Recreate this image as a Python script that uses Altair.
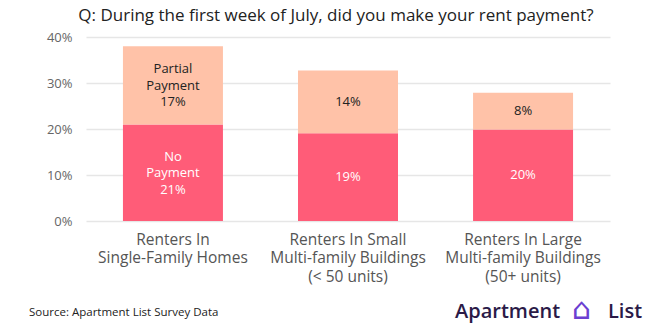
import altair as alt
import pandas as pd

categories = ["Renters In|Single-Family Homes",
              "Renters In Small|Multi-family Buildings|(< 50 units)",
              "Renters In Large|Multi-family Buildings|(50+ units)"]
series = ["No Payment", "Partial Payment"]
no_payment = [0.21, 0.191, 0.199]
partial_payment = [0.17, 0.136, 0.080]
colors = ["#FF5C78", "#FFC2A8"]
label_colors = ["#FFFFFF", "#222222"]

rows = []
for i, cat in enumerate(categories):
    lo = 0.0
    for s, vals in zip(series, [no_payment, partial_payment]):
        v = vals[i]
        pct = f"{round(v * 100):.0f}%"
        multi = i == 0
        if multi:
            lab = s.replace("Partial ", "Partial|").replace("No ", "No|") + "|" + pct
        else:
            lab = pct
        rows.append({"category": cat, "series": s, "value": v, "multi": multi,
                     "order": series.index(s), "mid": lo + v / 2, "label": lab})
        lo += v
df = pd.DataFrame(rows)

FONT = "Open Sans"

x_axis = alt.Axis(title=None, labelAngle=0, domain=False, ticks=False, grid=False,
                  labelExpr="split(datum.label, '|')",
                  labelFont=FONT, labelFontSize=15.5, labelColor="#555555",
                  labelLineHeight=18.5, labelPadding=11, labelBaseline="top")
y_axis = alt.Axis(title=None, format=".0%", values=[0, 0.1, 0.2, 0.3, 0.4],
                  domain=False, ticks=False, gridColor="#E6E6E6", gridWidth=1.5,
                  labelFont=FONT, labelFontSize=13, labelColor="#666666",
                  labelPadding=14)
x_scale = alt.Scale(paddingInner=0.4286, paddingOuter=0.211)
y_scale = alt.Scale(domain=[0, 0.4], nice=False)

base = alt.Chart(df)

bars = base.mark_bar(size=100).encode(
    x=alt.X("category:N", sort=categories, scale=x_scale, axis=x_axis),
    y=alt.Y("value:Q", stack="zero", scale=y_scale, axis=y_axis),
    color=alt.Color("series:N", scale=alt.Scale(domain=series, range=colors), legend=None),
    order=alt.Order("order:Q"),
)


def label_layer(multi, dy):
    return base.transform_filter(
        alt.datum.multi == multi
    ).transform_calculate(
        lines="split(datum.label, '|')"
    ).mark_text(font=FONT, fontSize=13, lineHeight=16.5, baseline="middle", dy=dy).encode(
        x=alt.X("category:N", sort=categories, scale=x_scale, axis=None),
        y=alt.Y("mid:Q", scale=y_scale, axis=None),
        text=alt.Text("lines:N"),
        color=alt.Color("series:N", scale=alt.Scale(domain=series, range=label_colors), legend=None),
    )


labels_multi = label_layer(True, -16)
labels_single = label_layer(False, 0)

source = alt.Chart(pd.DataFrame({"t": ["Source: Apartment List Survey Data"]})).mark_text(
    font=FONT, fontSize=11.5, color="#222222", align="left", baseline="middle"
).encode(x=alt.value(-57), y=alt.value(276), text="t:N")

logo1 = alt.Chart(pd.DataFrame({"t": ["Apartment"]})).mark_text(
    font=FONT, fontSize=20, color="#2B1A47", align="left", baseline="middle", fontWeight=600
).encode(x=alt.value(369), y=alt.value(275), text="t:N")
logo_icon = alt.Chart(pd.DataFrame({"t": ["⌂"]})).mark_text(
    font="DejaVu Sans", fontSize=30, color="#6B3FD1", align="left", baseline="middle"
).encode(x=alt.value(486), y=alt.value(273), text="t:N")
logo2 = alt.Chart(pd.DataFrame({"t": ["List"]})).mark_text(
    font=FONT, fontSize=20, color="#2B1A47", align="left", baseline="middle", fontWeight=600
).encode(x=alt.value(522), y=alt.value(275), text="t:N")

chart = alt.layer(bars, labels_multi, labels_single, source, logo1, logo_icon, logo2).resolve_scale(
    color="independent"
).resolve_axis(
    x="independent", y="independent"
).properties(
    width=524, height=184,
    title=alt.TitleParams("Q: During the first week of July, did you make your rent payment?",
                          font=FONT, fontSize=17, fontWeight="normal", color="#222222",
                          anchor="middle", dx=-12, offset=6),
    autosize=alt.AutoSizeParams(type="none"),
    padding={"left": 86, "top": 37, "right": 40, "bottom": 106},
).configure(background="white").configure_view(stroke=None, strokeWidth=0).configure_axis(
    domain=False, ticks=False, domainOpacity=0, tickOpacity=0
).configure_axisX(grid=False, gridOpacity=0)

chart.save("out.html", embed_options={"renderer": "svg", "actions": False})
